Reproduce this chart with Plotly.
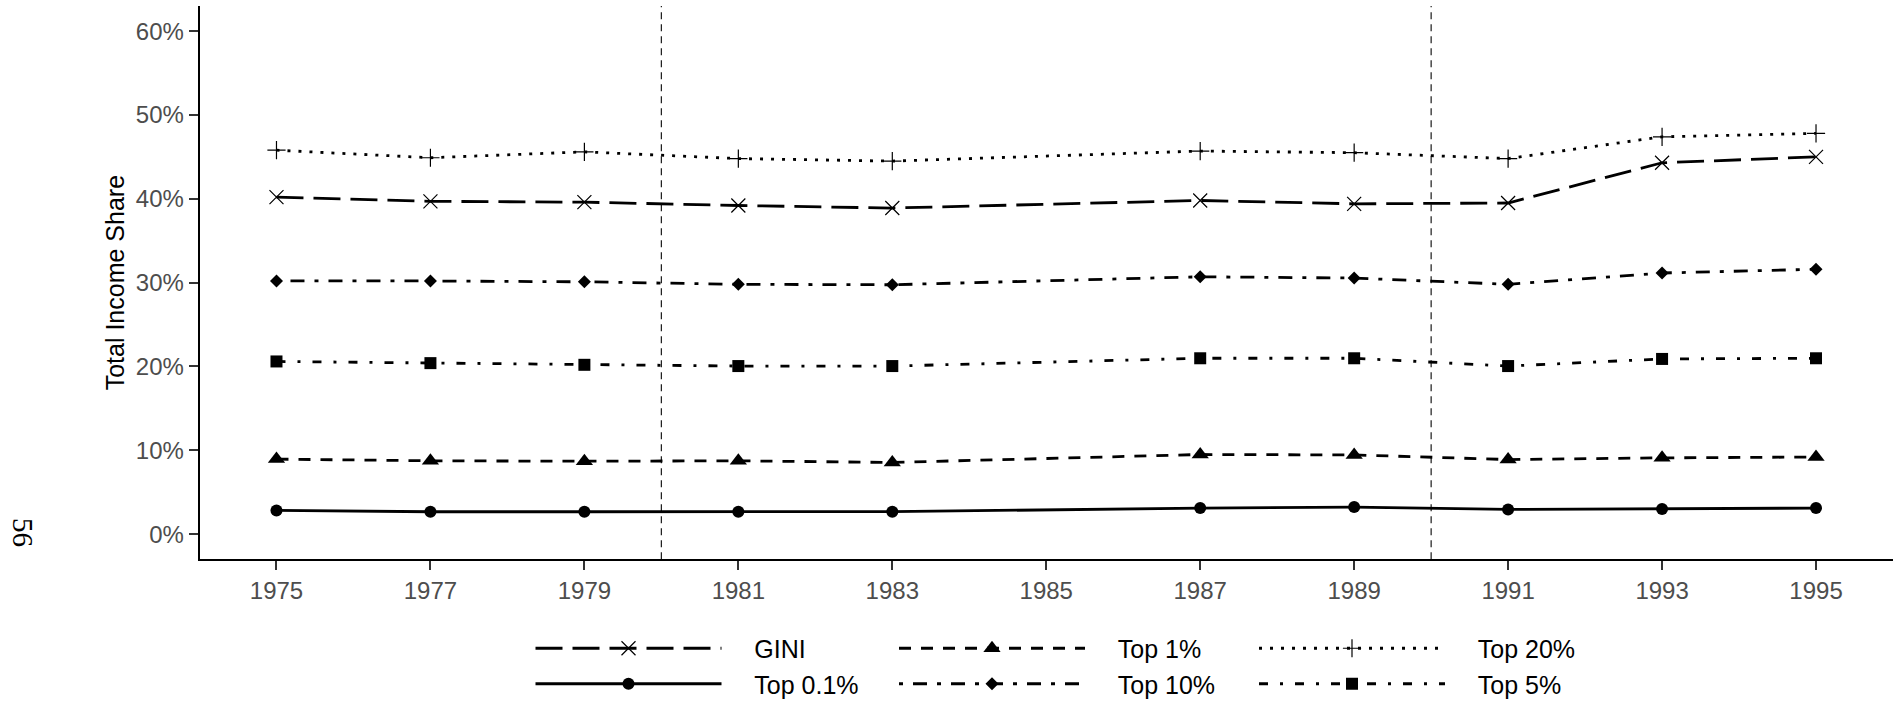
import plotly.graph_objects as go

# Survey years and income-share series (percent of total income)
years = [1975, 1977, 1979, 1981, 1983, 1987, 1989, 1991, 1993, 1995]
gini = [40.2, 39.7, 39.6, 39.2, 38.9, 39.8, 39.4, 39.5, 44.3, 45.0]
top_01 = [2.83, 2.67, 2.67, 2.68, 2.68, 3.11, 3.23, 2.95, 2.99, 3.11]
top_1 = [8.95, 8.75, 8.70, 8.75, 8.55, 9.50, 9.45, 8.90, 9.10, 9.20]
top_10 = [30.2, 30.2, 30.1, 29.8, 29.75, 30.7, 30.55, 29.8, 31.15, 31.6]
top_20 = [45.8, 44.9, 45.6, 44.8, 44.5, 45.7, 45.5, 44.8, 47.4, 47.8]
top_5 = [20.6, 20.4, 20.2, 20.05, 20.05, 20.98, 20.98, 20.05, 20.9, 20.98]

x_ticks = [1975, 1977, 1979, 1981, 1983, 1985, 1987, 1989, 1991, 1993, 1995]
y_ticks = [0.0, 0.1, 0.2, 0.3, 0.4, 0.5, 0.6]
breaks = [1980, 1990]

FONT = "Liberation Sans, Arial, Helvetica, sans-serif"
NBSP = "\u00a0" * 4

# name, values, dash, symbol, marker size, legend group
series = [
    ("GINI", gini, "27px,10px", "x-thin", 14, "legend"),
    ("Top 0.1%", top_01, "solid", "circle", 12, "legend"),
    ("Top 1%", top_1, "12px,10px", "triangle-up", 15, "legend2"),
    ("Top 10%", top_10, "4px,10px,14px,10px", "diamond", 10, "legend2"),
    ("Top 20%", top_20, "3px,8px", "cross-thin", 13, "legend3"),
    ("Top 5%", top_5, "9px,12px,3px,12px", "square", 12, "legend3"),
]

fig = go.Figure()
for name, vals, dash, sym, size, leg in series:
    thin = sym.endswith("-thin")
    fig.add_trace(go.Scatter(
        x=years,
        y=[v / 100 for v in vals],
        mode="lines+markers",
        name=NBSP + name,
        legend=leg,
        line=dict(color="black", width=2.8, dash=dash),
        marker=dict(
            symbol=sym,
            size=size,
            color="black",
            line=dict(color="black", width=1.2 if thin else 0),
        ),
        hoverinfo="x+y+name",
    ))

for b in breaks:
    fig.add_shape(
        type="line", xref="x", yref="y domain",
        x0=b, x1=b, y0=0, y1=1,
        line=dict(color="#1a1a1a", width=1.2, dash="7px,5px"),
        layer="below",
    )

legend_common = dict(
    orientation="v",
    xanchor="left",
    yanchor="top",
    itemwidth=186,
    font=dict(family=FONT, size=25, color="black"),
    bgcolor="rgba(0,0,0,0)",
    borderwidth=0,
    tracegroupgap=0,
    itemclick=False,
)
legend_top = 1 - 625.5 / 702

fig.update_layout(
    width=1900,
    height=702,
    margin=dict(l=0, r=0, t=0, b=0, autoexpand=False),
    paper_bgcolor="white",
    plot_bgcolor="white",
    font=dict(family=FONT, size=24, color="#4D4D4D"),
    showlegend=True,
    legend=dict(x=530.5 / 1900, y=legend_top, **legend_common),
    legend2=dict(x=894 / 1900, y=legend_top, **legend_common),
    legend3=dict(x=1254 / 1900, y=legend_top, **legend_common),
    xaxis=dict(
        domain=[199.5 / 1900, 1893 / 1900],
        range=[1974, 1996],
        tickvals=x_ticks,
        ticktext=[str(t) for t in x_ticks],
        showgrid=False,
        zeroline=False,
        showline=True,
        linecolor="black",
        linewidth=1.6,
        ticks="outside",
        ticklen=9,
        tickwidth=1.6,
        tickcolor="#333333",
        tickfont=dict(family=FONT, size=24, color="#4D4D4D"),
    ),
    yaxis=dict(
        domain=[1 - 559.3 / 702, 1 - 6 / 702],
        range=[-0.03, 0.63],
        tickvals=y_ticks,
        tickformat=".0%",
        showgrid=False,
        zeroline=False,
        showline=True,
        linecolor="black",
        linewidth=1.6,
        ticks="outside",
        ticklen=9,
        tickwidth=1.6,
        tickcolor="#333333",
        tickfont=dict(family=FONT, size=24, color="#4D4D4D"),
        title=dict(
            text="Total Income Share",
            font=dict(family=FONT, size=25, color="black"),
            standoff=4,
        ),
    ),
)

# page number printed in the left margin
fig.add_annotation(
    text="56",
    xref="paper", yref="paper",
    x=23 / 1900, y=1 - 532 / 702,
    xanchor="center", yanchor="middle",
    showarrow=False,
    textangle=90,
    font=dict(family="Liberation Serif, Times New Roman, serif", size=29, color="black"),
)

fig.write_html("out.html")
